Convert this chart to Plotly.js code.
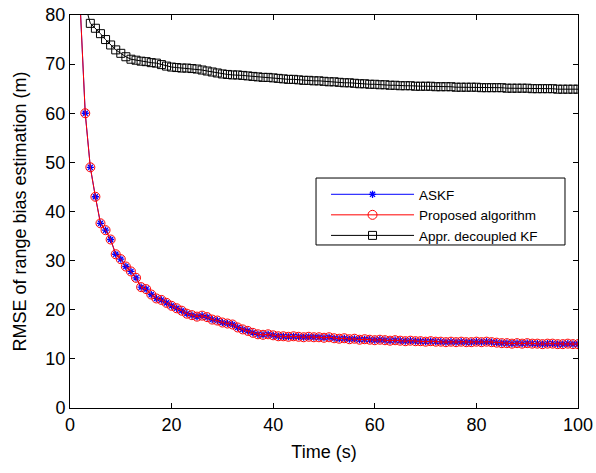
<!DOCTYPE html>
<html>
<head>
<meta charset="utf-8">
<script src="https://cdn.plot.ly/plotly-3.0.1.min.js"></script>
<style>
  html, body { margin: 0; padding: 0; background: #fff; }
  #chart { width: 596px; height: 473px; }
</style>
</head>
<body>
<div id="chart"></div>
<script>
const time = [1,2,3,4,5,6,7,8,9,10,11,12,13,14,15,16,17,18,19,20,
  21,22,23,24,25,26,27,28,29,30,31,32,33,34,35,36,37,38,39,40,
  41,42,43,44,45,46,47,48,49,50,51,52,53,54,55,56,57,58,59,60,
  61,62,63,64,65,66,67,68,69,70,71,72,73,74,75,76,77,78,79,80,
  81,82,83,84,85,86,87,88,89,90,91,92,93,94,95,96,97,98,99,100];

const askf = [120,82,60,49,43,37.6,36.2,34.3,31.3,30.3,28.8,27.8,26.5,24.6,24.2,23.1,22.3,22.0,21.4,20.8,
  20.3,19.8,19.2,18.9,18.6,18.8,18.5,18.0,17.8,17.4,17.2,17.0,16.4,16.0,15.7,15.3,15.0,14.9,15.0,14.8,
  14.6,14.6,14.5,14.6,14.5,14.4,14.5,14.4,14.4,14.3,14.4,14.2,14.1,14.2,14.0,14.1,13.9,14.0,13.9,13.8,
  13.9,13.8,13.7,13.8,13.7,13.6,13.7,13.6,13.6,13.5,13.6,13.5,13.5,13.4,13.5,13.4,13.5,13.4,13.4,13.5,
  13.4,13.5,13.4,13.3,13.2,13.2,13.1,13.2,13.1,13.2,13.1,13.1,13.0,13.1,13.1,13.0,13.0,13.1,13.0,13.0];

const proposed = [120,82,60,49,43,37.6,36.2,34.3,31.3,30.3,28.8,27.8,26.5,24.6,24.2,23.1,22.3,22.0,21.4,20.8,
  20.3,19.8,19.2,18.9,18.6,18.8,18.5,18.0,17.8,17.4,17.2,17.0,16.4,16.0,15.7,15.3,15.0,14.9,15.0,14.8,
  14.6,14.6,14.5,14.6,14.5,14.4,14.5,14.4,14.4,14.3,14.4,14.2,14.1,14.2,14.0,14.1,13.9,14.0,13.9,13.8,
  13.9,13.8,13.7,13.8,13.7,13.6,13.7,13.6,13.6,13.5,13.6,13.5,13.5,13.4,13.5,13.4,13.5,13.4,13.4,13.5,
  13.4,13.5,13.4,13.3,13.2,13.2,13.1,13.2,13.1,13.2,13.1,13.1,13.0,13.1,13.1,13.0,13.0,13.1,13.0,13.0];

const decoupled = [95,88,82,78.3,77.3,76.2,75.0,73.9,72.9,72.2,71.5,71.0,70.8,70.6,70.5,70.3,70.2,69.9,69.6,69.4,
  69.3,69.2,69.2,69.1,69.0,68.8,68.6,68.4,68.2,68.0,67.9,67.8,67.8,67.7,67.6,67.5,67.4,67.3,67.3,67.2,
  67.1,67.0,66.9,66.9,66.8,66.7,66.7,66.6,66.6,66.5,66.4,66.4,66.3,66.2,66.2,66.1,66.0,66.0,65.9,65.9,
  65.8,65.8,65.7,65.7,65.6,65.6,65.6,65.5,65.5,65.5,65.5,65.4,65.4,65.4,65.4,65.3,65.3,65.3,65.3,65.3,
  65.2,65.2,65.2,65.2,65.2,65.1,65.1,65.1,65.1,65.1,65.0,65.0,65.0,65.0,65.0,64.9,64.9,64.9,64.9,64.9];

const seriesNames = ['ASKF', 'Proposed algorithm', 'Appr. decoupled KF'];
const xTicks = [0, 20, 40, 60, 80, 100];
const yTicks = [0, 10, 20, 30, 40, 50, 60, 70, 80];

const FONT = '"Liberation Sans", Arial, sans-serif';

const traces = [
  {
    x: time, y: askf, name: seriesNames[0], type: 'scatter', mode: 'lines+markers',
    line: { color: '#0000ff', width: 1 },
    marker: { symbol: 'asterisk-open', size: 6, color: '#0000ff', line: { color: '#0000ff', width: 1.3 } }
  },
  {
    x: time, y: proposed, name: seriesNames[1], type: 'scatter', mode: 'lines+markers',
    line: { color: '#ff0000', width: 1 },
    marker: { symbol: 'circle-open', size: 9, color: '#ff0000', line: { color: '#ff0000', width: 1 } }
  },
  {
    x: time, y: decoupled, name: seriesNames[2], type: 'scatter', mode: 'lines+markers',
    line: { color: '#000000', width: 1 },
    marker: { symbol: 'square-open', size: 8, color: '#000000', line: { color: '#000000', width: 1 } }
  }
];

const axisCommon = {
  showgrid: false, zeroline: false, showline: true, mirror: 'ticks',
  linecolor: '#000', linewidth: 1, ticks: 'inside', ticklen: 5, tickwidth: 1, tickcolor: '#000',
  tickfont: { family: FONT, size: 18, color: '#000' }
};

// legend box in paper coordinates
const legX0 = 0.4843, legX1 = 0.9744, legY0 = 0.4148, legY1 = 0.5852;

const layout = {
  width: 596, height: 473,
  margin: { l: 70, r: 18, t: 15, b: 65 },
  paper_bgcolor: '#fff', plot_bgcolor: '#fff',
  showlegend: true,
  font: { family: FONT, color: '#000' },
  xaxis: Object.assign({}, axisCommon, {
    range: [0, 100], tickvals: xTicks, ticktext: xTicks.map(String),
    title: { text: 'Time (s)', font: { family: FONT, size: 18, color: '#000' }, standoff: 11 }
  }),
  yaxis: Object.assign({}, axisCommon, {
    range: [0, 80], tickvals: yTicks, ticktext: yTicks.map(String),
    title: { text: 'RMSE of range bias estimation (m)', font: { family: FONT, size: 18, color: '#000' }, standoff: 14 }
  }),
  shapes: [{
    type: 'rect', xref: 'paper', yref: 'paper', layer: 'above',
    x0: legX0, x1: legX1, y0: legY0, y1: legY1,
    line: { color: '#000', width: 1 }, fillcolor: '#fff'
  }],
  legend: {
    x: legX0 + 10 / 508, y: legY1 - 1 / 393, xanchor: 'left', yanchor: 'top',
    bgcolor: 'rgba(0,0,0,0)', borderwidth: 0,
    font: { family: FONT, size: 13.5, color: '#000' },
    itemwidth: 83, tracegroupgap: 0
  }
};

Plotly.newPlot('chart', traces, layout, { displayModeBar: false, staticPlot: true });
</script>
</body>
</html>
